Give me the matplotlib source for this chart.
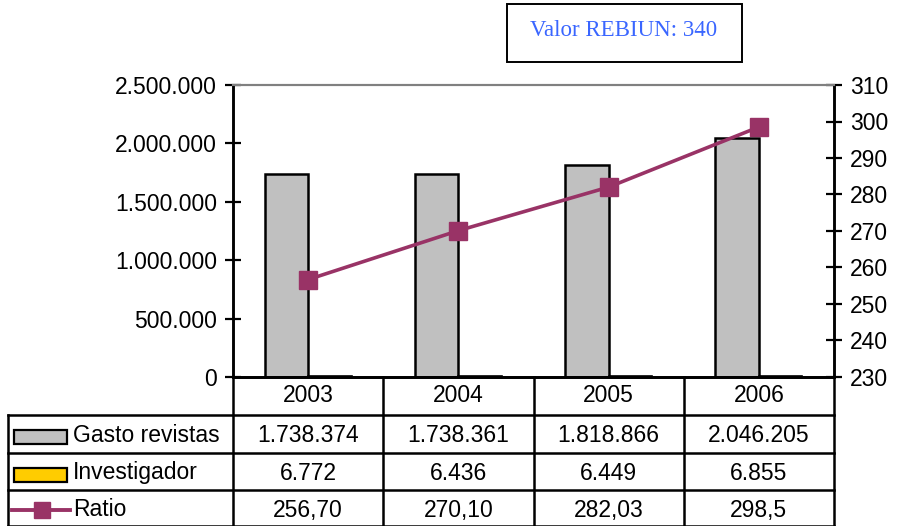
import matplotlib
matplotlib.use("Agg")
import matplotlib.pyplot as plt
from matplotlib.transforms import blended_transform_factory
from matplotlib.patches import Rectangle
from matplotlib.lines import Line2D

years = ["2003", "2004", "2005", "2006"]
gasto = [1738374, 1738361, 1818866, 2046205]
investigador = [6772, 6436, 6449, 6855]
ratio = [256.70, 270.10, 282.03, 298.5]
gasto_lbl = ["1.738.374", "1.738.361", "1.818.866", "2.046.205"]
inv_lbl = ["6.772", "6.436", "6.449", "6.855"]
ratio_lbl = ["256,70", "270,10", "282,03", "298,5"]
left_ticks = [0, 500000, 1000000, 1500000, 2000000, 2500000]
right_ticks = [230, 240, 250, 260, 270, 280, 290, 300, 310]

plt.rcParams['font.family'] = ['Liberation Sans', 'DejaVu Sans']
W, H = 897, 526
fig = plt.figure(figsize=(W / 100, H / 100), dpi=100)
L, R, T, B = 233, 834, 85, 377
ax = fig.add_axes([L / W, 1 - B / H, (R - L) / W, (B - T) / H])
ax2 = ax.twinx()

FS = 16.5
GRAY = "#c0c0c0"
YEL = "#ffcc00"
PLUM = "#993366"

x = list(range(len(years)))
bw = 0.29
ax.bar([i - bw / 2 for i in x], gasto, width=bw, color=GRAY, edgecolor="black", linewidth=1.8, zorder=2)
ax.bar([i + bw / 2 for i in x], investigador, width=bw, color=YEL, edgecolor="black", linewidth=1.2, zorder=2)
ax.set_xlim(-0.5, 3.5)
ax.set_ylim(0, 2500000)
ax.set_yticks(left_ticks)
ax.set_yticklabels(["{:,}".format(v).replace(",", ".") for v in left_ticks], fontsize=FS)
ax.set_xticks([])

ax2.plot(x, ratio, color=PLUM, linewidth=2.6, marker="s", markersize=12.5, zorder=3)
ax2.set_ylim(230, 310)
ax2.set_yticks(right_ticks)
ax2.set_yticklabels([str(v) for v in right_ticks], fontsize=FS)

for a in (ax, ax2):
    a.tick_params(axis="y", direction="inout", length=11, width=1.6, pad=6)
    a.spines["top"].set_color("#808080")
    a.spines["top"].set_linewidth(1.5)
    for s in ("left", "right", "bottom"):
        a.spines[s].set_linewidth(1.8)
        a.spines[s].set_color("black")
ax.patch.set_visible(False)

# table
tr = blended_transform_factory(ax.transData, fig.transFigure)
def fy(py):
    return 1 - py / H

lw = 1.8
rows_y = [377, 415, 453, 490, 526]
fig.add_artist(Line2D([-0.5, 3.5], [fy(377), fy(377)], transform=tr, color="black", lw=lw))
for py in rows_y[1:]:
    fig.add_artist(Line2D([-2, 3.5], [fy(py), fy(py)], transform=tr, color="black", lw=lw))
for xv in [-0.5, 0.5, 1.5, 2.5, 3.5]:
    fig.add_artist(Line2D([xv, xv], [fy(377), fy(526)], transform=tr, color="black", lw=lw))
fig.add_artist(Line2D([-2, -2], [fy(415), fy(526)], transform=tr, color="black", lw=lw))

centers = [396, 435, 473, 510]
for i, yr in enumerate(years):
    fig.text(i, fy(centers[0]), yr, transform=tr, ha="center", va="center", fontsize=FS)
for row, labels in zip(centers[1:], [gasto_lbl, inv_lbl, ratio_lbl]):
    for i, t in enumerate(labels):
        fig.text(i, fy(row), t, transform=tr, ha="center", va="center", fontsize=FS)

names = ["Gasto revistas", "Investigador", "Ratio"]
for row, name in zip(centers[1:], names):
    fig.text(73 / W, fy(row), name, ha="left", va="center", fontsize=FS)
fig.add_artist(Rectangle((14 / W, fy(444)), 53 / W, 14 / H, transform=fig.transFigure,
                         facecolor=GRAY, edgecolor="black", lw=1.6))
fig.add_artist(Rectangle((14 / W, fy(482)), 53 / W, 14 / H, transform=fig.transFigure,
                         facecolor=YEL, edgecolor="black", lw=1.6))
fig.add_artist(Line2D([12 / W, 70 / W], [fy(510), fy(510)], transform=fig.transFigure,
                      color=PLUM, lw=2.8))
fig.add_artist(Line2D([41.5 / W], [fy(510)], transform=fig.transFigure, color=PLUM,
                      marker="s", markersize=12, lw=0))

# text box
fig.add_artist(Rectangle((507 / W, fy(62)), 235 / W, 58 / H, transform=fig.transFigure,
                         facecolor="white", edgecolor="black", lw=1.4))
fig.text(624 / W, fy(31), "Valor REBIUN: 340", ha="center", va="center", fontsize=16.5,
         family=["Liberation Serif", "DejaVu Serif"], color="#3a66ff")

fig.savefig("out.png", dpi=100)
